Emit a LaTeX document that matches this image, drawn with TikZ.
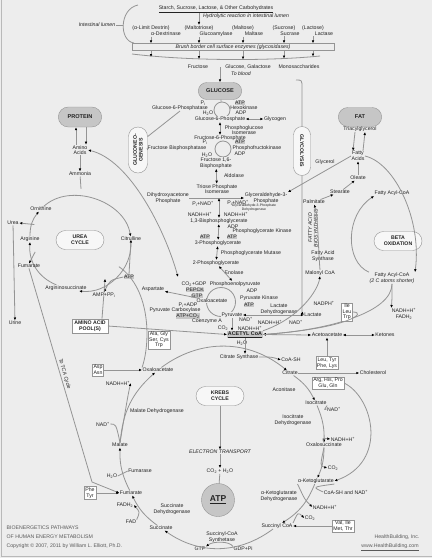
\documentclass[tikz,border=0pt]{standalone}
\usepackage{fontspec}
\setmainfont{Liberation Sans}
\usetikzlibrary{arrows.meta,shapes.misc}
\definecolor{paper}{RGB}{237,237,237}
\definecolor{rule}{RGB}{148,148,148}
\definecolor{hubfill}{RGB}{198,198,198}
\definecolor{ink}{RGB}{35,35,35}
\newcommand{\lowr}[1]{\textsubscript{#1}}
\newcommand{\uppr}[1]{\textsuperscript{#1}}
\tikzstyle{lbl}=[inner sep=0.4pt,text=ink,align=center,font=\fontsize{5.2}{5.6}\selectfont]
\tikzstyle{ilbl}=[lbl,font=\fontsize{5.2}{5.6}\selectfont\itshape]
\tikzstyle{tinylbl}=[lbl,font=\fontsize{3.4}{3.8}\selectfont]
\tikzstyle{onring}=[lbl,fill=paper]
\tikzstyle{hilite}=[lbl,fill=hubfill,inner sep=0.6pt]
\tikzstyle{hub}=[rounded rectangle,draw=rule,fill=hubfill,text=ink,minimum width=50pt,minimum height=17pt,font=\fontsize{5.6}{6}\selectfont\bfseries]
\tikzstyle{cyclebox}=[rounded rectangle,draw=rule,fill=white!55!paper,text=ink,align=center,minimum width=50pt,minimum height=19pt,inner sep=1pt,font=\fontsize{5.2}{5.8}\selectfont\bfseries]
\tikzstyle{aabox}=[lbl,draw=rule,fill=white,inner sep=1.2pt]
\tikzstyle{wire}=[draw=rule,line width=0.8pt]
\tikzstyle{flow}=[wire,-{Latex[length=3pt,width=2.6pt,color=black]}]
\tikzstyle{flows}=[wire,{Latex[length=3pt,width=2.6pt,color=black]}-{Latex[length=3pt,width=2.6pt,color=black]}]

\begin{document}
\begin{tikzpicture}[x=1pt,y=-1pt]

\fill[paper] (0,0) rectangle (432,558);
\useasboundingbox (0,0) rectangle (432,558);
\draw[gray!55,line width=1.4pt] (1.5,0) -- (1.5,556.5) -- (432,556.5);

% intestinal lumen
\node[lbl] (carbs) at (216,9) {\underline{Starch, Sucrose, Lactose, \& Other Carbohydrates}};
\node[ilbl] (hydro) at (246,16) {Hydrolytic reaction in intestinal lumen};
\node[ilbl] (lumen) at (97,25) {Intestinal lumen};
\node[lbl] (dextrin) at (151,28) {(α-Limit Dextrin)};
\node[lbl] (dextrinase) at (166,34) {α-Dextrinase};
\node[lbl] (maltotriose) at (199,28) {(Maltotriose)};
\node[lbl] (glucoamylase) at (216,34) {Glucoamylase};
\node[lbl] (maltose) at (243,28) {(Maltose)};
\node[lbl] (maltase) at (254,34) {Maltase};
\node[lbl] (sucrose) at (284,28) {(Sucrose)};
\node[lbl] (sucrase) at (290,34) {Sucrase};
\node[lbl] (lactose) at (313,28) {(Lactose)};
\node[lbl] (lactase) at (324,34) {Lactase};
\node[ilbl,draw=rule,minimum width=202pt,minimum height=7pt,inner sep=0pt] (brush) at (233,47) {Brush border cell surface enzymes (glycosidases)};
\coordinate (lumenedge) at (123,25);
\draw[wire] (lumen.east) -- (lumenedge);
\draw[wire] (138,5) .. controls (119,9) and (119,41) .. (134,43);
\draw[wire] (132,54) .. controls (190,61) and (270,61) .. (320,56);
\coordinate (m1) at (151,57);
\coordinate (m2) at (199,59);
\coordinate (m3) at (243,59.5);
\coordinate (m4) at (284,58.5);
\coordinate (m5) at (313,56.5);
\draw[flow] (carbs.south -| maltotriose) -- (maltotriose.north);
\foreach \s/\e/\m in {dextrin/dextrinase/m1,maltotriose/glucoamylase/m2,maltose/maltase/m3,sucrose/sucrase/m4,lactose/lactase/m5}{
  \draw[flow] (\s.south |- \e.south) -- (\s.south |- brush.north);
  \draw[flow] (\s.south |- brush.south) -- (\m);
}
\node[lbl] (fructose) at (198,67) {Fructose};
\node[lbl] (glucgal) at (248,67) {Glucose, Galactose};
\node[lbl] (monos) at (299,67) {Monosaccharides};
\node[ilbl] (toblood) at (241,74) {To blood};

% glycolysis
\node[hub] (glucose) at (220,91) {GLUCOSE};
\draw[flow] (glucose.north |- glucgal.center) -- (glucose.north);
\node[circle,draw=rule,line width=0.8pt,minimum size=16pt,inner sep=0pt] (hexloop) at (222,110) {};
\draw[wire] (glucose) -- (hexloop);
\node[lbl] (pi1) at (203,103) {P\lowr{i}};
\node[hilite] (atp1) at (240,103) {ATP};
\node[lbl] (g6pase) at (180,108) {Glucose-6-Phosphatase};
\node[lbl] (hexokinase) at (244,108) {Hexokinase};
\node[lbl] (h2o1) at (208,113) {H\lowr{2}O};
\node[lbl] (adp1) at (241,113) {ADP};
\node[onring] (g6p) at (220,119) {Glucose-6-Phosphate};
\node[lbl] (glycogen) at (275,119) {Glycogen};
\draw[flows] (g6p) -- (glycogen);
\node[lbl] (pgi) at (244,130) {Phosphoglucose\\Isomerase};
\node[onring] (f6p) at (220,138) {Fructose-6-Phosphate};
\draw[flows] (g6p) -- (f6p);
\node[circle,draw=rule,line width=0.8pt,minimum size=16pt,inner sep=0pt] (pfkloop) at (223,149) {};
\draw[wire] (f6p) -- (pfkloop);
\node[lbl] (pi2) at (205,142) {P\lowr{i}};
\node[hilite] (atp2) at (240,142) {ATP};
\node[lbl] (fbpase) at (177,148) {Fructose Bisphosphatase};
\node[lbl] (pfk) at (257,148) {Phosphofructokinase};
\node[lbl] (h2o2) at (207,155) {H\lowr{2}O};
\node[lbl] (adp2) at (240,154) {ADP};
\node[onring] (f16bp) at (216,163) {Fructose 1,6-\\Bisphosphate};
\node[lbl] (aldolase) at (234,176) {Aldolase};
\node[lbl] (tpi) at (217,189) {Triose Phosphate\\Isomerase};
\draw[flows] (f16bp) -- (tpi);
\node[lbl] (dhap) at (168,198) {Dihydroxyacetone\\Phosphate};
\node[lbl] (g3p) at (266,198) {Glyceraldehyde-3-\\Phosphate};
\draw[flow] (dhap.east) -- (g3p.west);
\coordinate (split) at (219,198);
\node[lbl] (pinad1) at (203,204) {P\lowr{i}+NAD\uppr{+}};
\node[lbl] (pinad2) at (238,203) {P\lowr{i}+NAD\uppr{+}};
\node[tinylbl] (gapdh) at (254,208) {Glyceraldehyde-3-Phosphate\\Dehydrogenase};
\node[lbl] (nadh1) at (200,214) {NADH+H\uppr{+}};
\node[lbl] (nadh2) at (236,214.5) {NADH+H\uppr{+}};
\node[lbl] (bpg) at (219,221) {1,3-Bisphosphoglycerate};
\draw[flows] (split) -- (bpg);
\node[lbl] (adp3) at (233,226.5) {ADP};
\node[lbl] (pgk) at (262,231) {Phosphoglycerate Kinase};
\node[hilite] (atp3) at (205,237) {ATP};
\node[hilite] (atp4) at (232,237) {ATP};
\node[lbl] (pg3) at (218,243) {3-Phosphoglycerate};
\draw[flows] (bpg) -- (pg3);
\node[lbl] (pgm) at (251,253) {Phosphoglycerate Mutase};
\node[lbl] (pg2) at (216,263) {2-Phosphoglycerate};
\draw[flows] (pg3) -- (pg2);
\node[lbl] (enolase) at (234,273) {Enolase};
\node[onring] (pep) at (235,284) {Phosphoenolpyruvate};
\draw[flows] (pg2) -- (pep);
\node[lbl] (co2gdp) at (194,284) {CO\lowr{2}+GDP};

% pyruvate loop
\node[circle,draw=rule,line width=0.8pt,minimum size=29pt,inner sep=0pt] (pkloop) at (221,302) {};
\node[lbl] (aspartate) at (153,289) {Aspartate};
\node[hilite] (pepck) at (195,290) {PEPCK};
\node[hilite] (gtp2) at (197,296) {GTP};
\node[onring] (oaa2) at (212,301) {Oxaloacetate};
\draw[flow] (oaa2) -- (aspartate);
\node[lbl] (adp5) at (252,291) {ADP};
\node[lbl] (pk) at (259,298) {Pyruvate Kinase};
\node[hilite] (atp5) at (249,305) {ATP};
\node[lbl] (piadp) at (188,305) {P\lowr{i}+ADP};
\node[lbl] (pc) at (175,310) {Pyruvate Carboxylase};
\node[hilite] (atpco2) at (188,316) {ATP+CO\lowr{2}};
\node[onring] (pyruvate) at (232,315) {Pyruvate};
\node[lbl] (coa) at (207,321) {Coenzyme A};
\node[lbl] (nadpyr) at (246,319.5) {NAD\uppr{+}};
\node[lbl] (co2pdh) at (223,328) {CO\lowr{2}};
\node[lbl] (nadhpdh) at (250,328) {NADH+H\uppr{+}};
\node[hilite,font=\fontsize{5.4}{6}\selectfont\bfseries] (acetyl) at (245,334.5) {\underline{ACETYL CoA}};
\draw[flow] (pyruvate.south) -- (pyruvate.south |- acetyl.north);
\node[lbl] (ldh) at (279,309) {Lactate\\Dehydrogenase};
\node[lbl] (nadhldh) at (270,322) {NADH+H\uppr{+}};
\node[lbl] (lactate) at (313,315) {Lactate};
\node[lbl] (nadlac) at (296,322) {NAD\uppr{+}};
\draw[flows] (pyruvate.east) -- (lactate.west);
\node[aabox] (alabox) at (159,340) {Ala, Gly\\Ser, Cys\\Trp};
\node[lbl] (h2ocs) at (242,343) {H\lowr{2}O};
\node[lbl] (cs) at (239,357) {Citrate Synthase};

% gluconeogenesis and glycolysis brackets
\node[cyclebox,rotate=90,minimum width=48pt,minimum height=19pt] (gng) at (138,150) {GLUCONEO-\\GENESIS};
\draw[wire] (gng.south east) -- (g6pase.south);
\draw[wire] (gng.south) -- (fbpase.west);
\node[cyclebox,rotate=-90,minimum width=51pt,minimum height=17pt] (glyc) at (302,151) {GLYCOLYSIS};
\draw[wire] (296,80) .. controls (302,80) .. (302,88) -- (glyc.west);
\draw[flow] (glyc.east) -- (302,307) .. controls (302,313) .. (lactate.west);

% protein and urea cycle
\node[hub,minimum height=20pt] (protein) at (80,117) {PROTEIN};
\node[lbl] (aminoacids) at (80,150) {Amino\\Acids};
\draw[flow] ([xshift=-4pt]aminoacids.north) -- ([xshift=-4pt]protein.south);
\draw[flow] ([xshift=6pt]protein.south) -- ([xshift=6pt]aminoacids.north);
\node[lbl] (ammonia) at (80,174) {Ammonia};
\draw[flow] (aminoacids) -- (ammonia);
\coordinate (pepjoin) at (178,277);
\draw[flows] (aminoacids.east) .. controls (130,160) and (165,230) .. (pepjoin);
\node[circle,minimum size=96pt,inner sep=0pt] (ureaRing) at (81,237) {};
\draw[wire] (ammonia) -- (ureaRing.north);
\node[cyclebox] (urea) at (80,240) {UREA\\CYCLE};
\node[onring] (ornithine) at (41,209) {Ornithine};
\node[onring] (citrulline) at (131,239) {Citrulline};
\node[onring] (argsucc) at (66,288) {Argininosuccinate};
\node[onring] (arginine) at (30,239) {Arginine};
\draw[flow] (ornithine) to[bend left=62] (citrulline);
\draw[flow] (citrulline) to[bend left=50] (argsucc);
\draw[flow] (argsucc) to[bend left=36] (arginine);
\draw[flow] (arginine) to[bend left=20] (ornithine);
\node[lbl] (ureaout) at (13,223) {Urea};
\draw[flow] (ureaRing.165) -- (ureaout.east);
\node[lbl] (fumu) at (29,266) {Fumarate};
\draw[flow] (ureaRing.198) -- (fumu.north);
\node[hilite] (atpu) at (129,277) {ATP};
\draw[flow] (atpu.north) -- ([yshift=2pt]citrulline.south);
\node[lbl] (amppi) at (104,295) {AMP+PP\lowr{i}};
\draw[flow] (atpu.west) .. controls (110,280) .. (amppi.north);
\node[lbl] (urine) at (15,323) {Urine};
\draw[flow] (ureaout) -- (urine);
\node[aabox,font=\fontsize{5.2}{5.8}\selectfont\bfseries,inner sep=2pt] (aapool) at (90,326) {AMINO ACID\\POOL(S)};
\draw[flow] ([xshift=12pt]aapool.north) -- (ureaRing.-60);
\draw[flow] (aapool.east) -- (acetyl.west);

% fat and beta oxidation
\node[hub,minimum height=19pt] (fat) at (360,117) {FAT};
\node[lbl] (triacyl) at (360,129) {Triacylglycerol};
\node[lbl] (fattyacids) at (358,156) {Fatty\\Acids};
\draw[flow] ([xshift=-5pt]triacyl.south) -- ([xshift=-5pt]fattyacids.north);
\draw[flow] ([xshift=5pt]fattyacids.north) -- ([xshift=5pt]triacyl.south);
\node[lbl] (glycerol) at (325,162) {Glycerol};
\draw[flow] (fattyacids.west) -- (g3p.north east);
\node[lbl] (oleate) at (358,178) {Oleate};
\draw[flow] (oleate) -- (fattyacids);
\node[lbl] (stearate) at (340,192) {Stearate};
\draw[flow] (stearate) -- (oleate);
\node[lbl] (palmitate) at (314,202) {Palmitate};
\draw[flow] (palmitate) -- (stearate);
\node[ilbl,rotate=90] (fasbio) at (313,228) {FATTY ACID\\BIOSYNTHESIS};
\node[lbl] (fas) at (323,256) {Fatty Acid\\Synthase};
\node[lbl] (malonyl) at (320,273) {Malonyl CoA};
\draw[flow] (malonyl.north) .. controls (318,245) and (318,215) .. (palmitate.south);
\node[lbl] (facoa) at (392,193) {Fatty Acyl-CoA};
\node[cyclebox] (beta) at (398,241) {BETA\\OXIDATION};
\node[lbl] (facoa2) at (392,278) {Fatty Acyl-CoA\\\textit{(2 C atoms shorter)}};
\draw[flow] (fattyacids.east) .. controls (395,163) and (422,220) .. (facoa2.north east);
\draw[flow] (facoa2.north west) .. controls (345,262) and (345,215) .. (facoa.south west);
\node[lbl] (nadhfad) at (404,314) {NADH+H\uppr{+}\\FADH\lowr{2}};
\draw[flow] (facoa2.south) .. controls (392,300) .. (nadhfad.north west);
\draw[flow] (facoa2.south) .. controls (392,312) and (330,330) .. (acetyl.east);
\node[lbl] (nadph) at (324,303) {NADPH\uppr{+}};
\node[aabox] (ilebox) at (347,312) {Ile\\Leu\\Trp};
\draw[flow] (acetyl.north east) .. controls (300,318) and (318,290) .. (malonyl.south);
\draw[flow] (ilebox.east) .. controls (368,312) and (350,328) .. (acetyl.east);
\node[lbl] (acetoacetate) at (327,335) {Acetoacetate};
\node[lbl] (ketones) at (385,335) {Ketones};
\draw[flow] (acetyl.east) -- (acetoacetate.west);
\draw[flows] (acetoacetate) -- (ketones);
\node[aabox] (leubox) at (327,363) {Leu, Tyr\\Phe, Lys};
\draw[flow] (leubox) -- (acetoacetate);

% krebs cycle
\node[cyclebox] (krebs) at (220,396) {KREBS\\CYCLE};
\node[onring] (oaa) at (158,370) {Oxaloacetate};
\draw[wire] (ureaRing.-38) .. controls (152,290) and (150,345) .. (oaa.north west);
\node[onring] (citrate) at (290,373) {Citrate};
\node[lbl] (coash) at (291,360) {CoA-SH};
\draw[flow] (cs.east) .. controls (272,357) .. (coash.west);
\node[lbl] (cholesterol) at (373,373) {Cholesterol};
\draw[flow] (citrate.east) -- (cholesterol.west);
\draw[flow] (acetyl.south) -- (acetyl.south |- cs.north);
\node[aabox] (argbox) at (328,383) {Arg, His, Pro\\Glu, Gln};
\node[lbl] (aconitase) at (284,390) {Aconitase};
\node[onring] (isocitrate) at (316,403) {Isocitrate};
\node[lbl] (nadiso) at (334,409) {NAD\uppr{+}};
\node[lbl] (icdh) at (293,420) {Isocitrate\\Dehydrogenase};
\node[lbl] (nadhiso) at (343,439) {NADH+H\uppr{+}};
\node[onring] (oxalosucc) at (324,445) {Oxalosuccinate};
\node[lbl] (co2a) at (333,468) {CO\lowr{2}};
\node[onring] (akg) at (316,481) {α-Ketoglutarate};
\node[lbl] (coanad) at (346,492) {CoA-SH and NAD\uppr{+}};
\node[lbl] (akgdh) at (279,496) {α-Ketoglutarate\\Dehydrogenase};
\node[lbl] (nadhakg) at (325,507) {NADH+H\uppr{+}};
\node[lbl] (co2b) at (310,518) {CO\lowr{2}};
\node[onring] (succoa) at (277,526) {Succinyl CoA};
\node[aabox] (valbox) at (343,526) {Val, Ile\\Met, Thr};
\draw[flow] (valbox) -- (succoa);
\draw[flow] (argbox.east) .. controls (374,398) and (388,462) .. (akg.east);
\node[lbl] (succsyn) at (222,537) {Succinyl-CoA\\Synthetase};
\node[lbl] (gtp) at (200,549) {GTP};
\node[lbl] (gdp) at (243,549) {GDP+Pi};
\draw[flow] (gdp.north west) .. controls (230,541) and (213,541) .. (gtp.north east);
\node[onring] (succinate) at (161,528) {Succinate};
\node[lbl] (sdh) at (172,509) {Succinate\\Dehydrogenase};
\node[lbl] (fad) at (131,522) {FAD};
\node[lbl] (fadh) at (125,505) {FADH\lowr{2}};
\node[onring] (fumarate) at (131,493) {Fumarate};
\node[aabox] (phebox) at (90,493) {Phe\\Tyr};
\draw[flow] (phebox) -- (fumarate);
\node[lbl] (h2ofum) at (112,476) {H\lowr{2}O};
\node[lbl] (fumarase) at (140,471) {Fumarase};
\node[onring] (malate) at (120,445) {Malate};
\node[lbl] (nadmal) at (103,424) {NAD\uppr{+}};
\node[lbl] (mdh) at (157,411) {Malate Dehydrogenase};
\node[lbl] (nadhmal) at (118,383) {NADH+H\uppr{+}};
\node[aabox] (aspbox) at (98,370) {Asp\\Asn};
\draw[flow] (aspbox) -- (oaa);
\draw[flow] (oaa) to[bend left=38] (citrate);
\draw[flow] (citrate) to[bend left=14] (isocitrate);
\draw[flow] (isocitrate) to[bend left=12] (oxalosucc);
\draw[flow] (oxalosucc) to[bend left=12] (akg);
\draw[flow] (akg) to[bend left=18] (succoa);
\draw[flow] (succoa) to[bend left=36] (succinate);
\draw[flow] (succinate) to[bend left=14] (fumarate);
\draw[flow] (fumarate) to[bend left=14] (malate);
\draw[flow] (malate) to[bend left=22] (oaa);
\draw[flow] (oxalosucc.north) .. controls (322,438) .. (nadhiso.west);
\draw[wire] (nadiso.west) .. controls (324,410) .. (isocitrate.south east);
\draw[flow] (oxalosucc.south) .. controls (320,466) .. (co2a.west);
\draw[wire] (coanad.west) .. controls (312,487) .. (akg.south east);
\draw[flow] (akg.south west) .. controls (305,500) .. (nadhakg.west);
\draw[flow] (succoa.north east) .. controls (298,512) .. (co2b.west);
\draw[flow] (malate.north) .. controls (128,395) .. (nadhmal.east);
\draw[wire] (nadmal.east) .. controls (116,424) .. (malate.north);
\draw[flow] (fad.north east) .. controls (140,512) .. (fadh.east);
\draw[wire] (h2ofum.east) -- (fumarase.west);
\coordinate (tcabend) at (92,482);
\draw[flow] (fumu.south) -- (tcabend) node[pos=0.5,sloped,above=1pt,ilbl] {To TCA Cycle} -- (fumarate.west);

% electron transport
\node[ilbl] (et) at (220,452) {ELECTRON TRANSPORT};
\draw[flow] (krebs.south) -- (et.north);
\node[lbl] (co2h2o) at (220,471) {CO\lowr{2} + H\lowr{2}O};
\draw[flow] (et.south) -- (co2h2o.north);
\node[circle,draw=rule,fill=hubfill,minimum size=33pt,text=ink,font=\fontsize{8.5}{9}\selectfont\bfseries] (atpbig) at (218,500) {\underline{ATP}};
\draw[wire] (co2h2o) -- (atpbig);

% credits
\node[lbl,anchor=west,text=ink!75] (title1) at (6,528) {BIOENERGETICS PATHWAYS};
\node[lbl,anchor=west,text=ink!75] (title2) at (6,537) {OF HUMAN ENERGY METABOLISM};
\node[lbl,anchor=west,text=ink!75] (title3) at (6,546) {Copyright © 2007, 2011 by William L. Elliott, Ph.D.};
\node[lbl,text=ink!75] (hbi) at (397,537) {HealthBuilding, Inc.};
\node[lbl,text=ink!75] (url) at (390,547) {\underline{www.HealthBuilding.com}};

\end{tikzpicture}
\end{document}
